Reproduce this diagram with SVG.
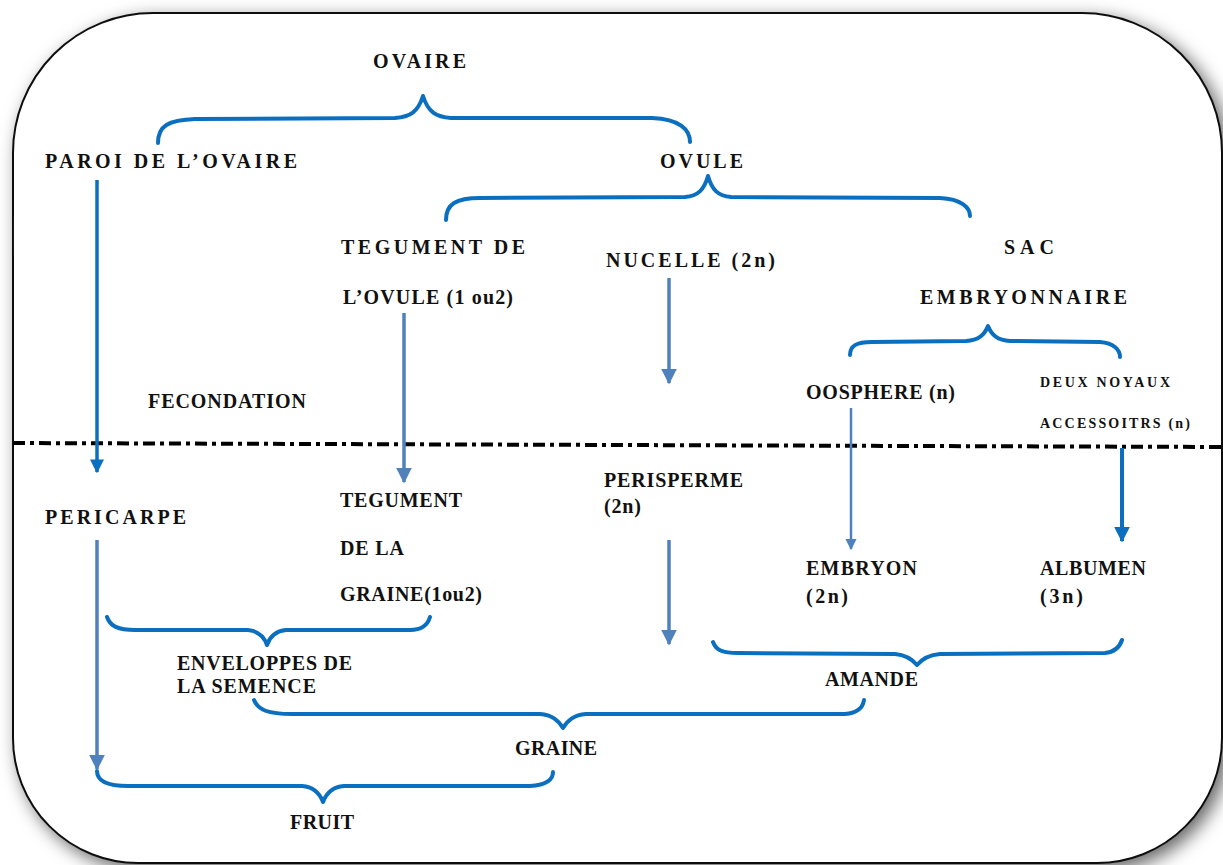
<svg xmlns="http://www.w3.org/2000/svg" width="1223" height="865" viewBox="0 0 1223 865">
<defs>
<filter id="sh" x="-5%" y="-5%" width="110%" height="110%">
<feDropShadow dx="6" dy="6" stdDeviation="9" flood-color="#000" flood-opacity="0.6"/>
</filter>
<marker id="ahD" viewBox="0 0 10 10" refX="9" refY="5" markerWidth="4" markerHeight="4" orient="auto" markerUnits="strokeWidth">
<path d="M0,0 L10,5 L0,10 Z" fill="#0b6fc0"/>
</marker>
<marker id="ahL" viewBox="0 0 10 10" refX="9" refY="5" markerWidth="4.5" markerHeight="4.5" orient="auto" markerUnits="strokeWidth">
<path d="M0,0 L10,5 L0,10 Z" fill="#4f81bd"/>
</marker>
<style>
text{font-family:"Liberation Serif","Times New Roman",serif;font-size:20px;font-weight:bold;fill:#111}
.sm{font-size:14px}
.br{fill:none;stroke:#0b6fc0;stroke-width:4;stroke-linecap:round;stroke-linejoin:round}
.ad{stroke:#0b6fc0;stroke-width:3.5;fill:none;marker-end:url(#ahD)}
.al{stroke:#4f81bd;stroke-width:3.5;fill:none;marker-end:url(#ahL)}
.at{stroke:#4f81bd;stroke-width:2.5;fill:none;marker-end:url(#ahL)}
</style>
</defs>
<rect width="1223" height="865" fill="#fff"/>
<path id="frame" d="M153,13 H1082 A140,140 0 0 1 1222,153 V738 A125,125 0 0 1 1097,863 H138 A125,125 0 0 1 13,738 V153 A140,140 0 0 1 153,13 Z" fill="#fff" stroke="#111" stroke-width="2" filter="url(#sh)"/>
<line x1="13" y1="443" x2="1223" y2="447" stroke="#000" stroke-width="4" stroke-dasharray="12 5 4 5"/>
<g id="connectors">
<path class="br" d="M158,143 C158,126 168,120 195,119 L395,118 C410,117 418,112 423,96 C428,112 436,117 451,118 L652,118 C680,119 690,130 690,142"/>
<path class="br" d="M446,220 C446,204 456,198 480,198 L685,197 C698,196 704,190 708,176 C712,190 718,196 731,197 L940,198 C962,199 970,208 970,216"/>
<path class="br" d="M850,355 C850,346 856,342 872,342 L966,341 C978,340 984,336 988,326 C992,336 998,340 1010,341 L1100,342 C1114,343 1120,350 1120,357"/>
<path class="br" d="M107,617 C110,626 118,630 135,630 L248,630 C258,631 264,636 267,645 C270,636 276,631 286,630 L410,630 C422,630 428,624 430,617"/>
<path class="br" d="M713,642 C716,650 722,653 738,653 L895,654 C906,655 912,659 917,665 C922,659 928,655 940,654 L1105,653 C1116,652 1120,646 1122,640"/>
<path class="br" d="M254,700 C258,710 268,714 292,714 L540,714 C552,715 558,720 563,728 C568,720 574,715 586,714 L845,714 C858,713 863,707 864,700"/>
<path class="br" d="M97,771 C97,781 106,786 128,786 L302,786 C314,787 320,794 323,802 C326,794 332,787 344,786 L530,786 C546,785 553,780 553,772"/>
<line class="ad" x1="97" y1="180" x2="97" y2="472"/>
<line class="al" x1="404" y1="313" x2="404" y2="482"/>
<line class="al" x1="669" y1="278" x2="669" y2="383"/>
<line class="at" x1="851" y1="408" x2="851" y2="549"/>
<line class="ad" x1="1122" y1="448" x2="1122" y2="541" style="stroke-width:4"/>
<line class="al" x1="97" y1="540" x2="97" y2="769"/>
<line class="al" x1="669" y1="540" x2="669" y2="644"/>
</g>
<g id="n-ovaire"><text x="373" y="68" textLength="93" lengthAdjust="spacing">OVAIRE</text></g>
<g id="n-paroi"><text x="45" y="168" textLength="252" lengthAdjust="spacing">PAROI DE  L’OVAIRE</text></g>
<g id="n-ovule"><text x="660" y="168" textLength="83" lengthAdjust="spacing">OVULE</text></g>
<g id="n-tegovule"><text x="341" y="254" textLength="184" lengthAdjust="spacing">TEGUMENT DE</text><text x="343" y="304" textLength="170" lengthAdjust="spacing">L’OVULE  (1 ou2)</text></g>
<g id="n-nucelle"><text x="606" y="267" textLength="169" lengthAdjust="spacing">NUCELLE (2n)</text></g>
<g id="n-sac"><text x="1004" y="254" textLength="50" lengthAdjust="spacing">SAC</text><text x="920" y="304" textLength="207" lengthAdjust="spacing">EMBRYONNAIRE</text></g>
<g id="n-fecondation"><text x="148" y="408" textLength="158" lengthAdjust="spacing">FECONDATION</text></g>
<g id="n-oosphere"><text x="806" y="399" textLength="149" lengthAdjust="spacing">OOSPHERE (n)</text></g>
<g id="n-noyaux"><text class="sm" x="1040" y="387" textLength="130" lengthAdjust="spacing">DEUX NOYAUX</text><text class="sm" x="1040" y="428" textLength="150" lengthAdjust="spacing">ACCESSOITRS (n)</text></g>
<g id="n-pericarpe"><text x="45" y="524" textLength="141" lengthAdjust="spacing">PERICARPE</text></g>
<g id="n-teggraine"><text x="340" y="507" textLength="122" lengthAdjust="spacing">TEGUMENT</text><text x="340" y="555" textLength="64" lengthAdjust="spacing">DE LA</text><text x="340" y="601" textLength="142" lengthAdjust="spacing">GRAINE(1ou2)</text></g>
<g id="n-perisperme"><text x="604" y="487" textLength="139" lengthAdjust="spacing">PERISPERME</text><text x="604" y="513" textLength="37" lengthAdjust="spacing">(2n)</text></g>
<g id="n-embryon"><text x="806" y="575" textLength="111" lengthAdjust="spacing">EMBRYON</text><text x="806" y="603" textLength="42" lengthAdjust="spacing">(2n)</text></g>
<g id="n-albumen"><text x="1040" y="575" textLength="106" lengthAdjust="spacing">ALBUMEN</text><text x="1040" y="603" textLength="43" lengthAdjust="spacing">(3n)</text></g>
<g id="n-enveloppes"><text x="177" y="670" textLength="175" lengthAdjust="spacing">ENVELOPPES DE</text><text x="177" y="693" textLength="139" lengthAdjust="spacing">LA SEMENCE</text></g>
<g id="n-amande"><text x="825" y="686" textLength="93" lengthAdjust="spacing">AMANDE</text></g>
<g id="n-graine"><text x="515" y="755" textLength="82" lengthAdjust="spacing">GRAINE</text></g>
<g id="n-fruit"><text x="290" y="829" textLength="64" lengthAdjust="spacing">FRUIT</text></g>
</svg>
